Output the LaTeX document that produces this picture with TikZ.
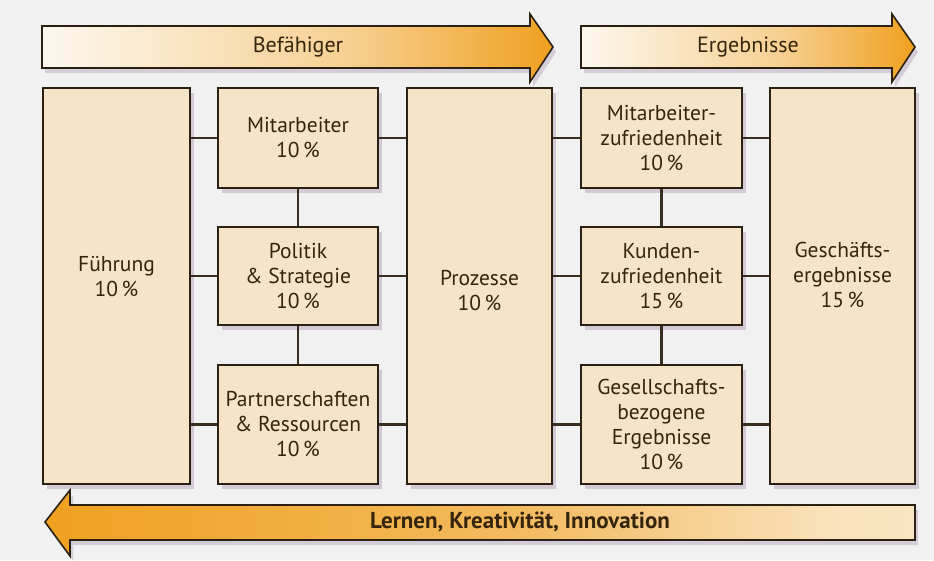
\documentclass[tikz,border=0pt]{standalone}
\usepackage{fontspec}
\setmainfont{PT Sans}
\usetikzlibrary{shadows}

\definecolor{bgc}{HTML}{F1F1F1}
\definecolor{boxfill}{HTML}{F5E4C8}
\definecolor{edge}{HTML}{2B2112}
\definecolor{ink}{HTML}{35250C}
\definecolor{pale}{HTML}{FCF7EE}
\definecolor{amber}{HTML}{F0A020}
\definecolor{shade}{HTML}{B9A9BE}

% band fillings: cream fading into amber
\pgfdeclarehorizontalshading{warmright}{100bp}{
  color(0bp)=(pale); color(25bp)=(pale); color(55bp)=(pale!55!amber);
  color(75bp)=(amber); color(100bp)=(amber)}
\pgfdeclarehorizontalshading{warmleft}{100bp}{
  color(0bp)=(amber); color(25bp)=(amber); color(52bp)=(amber!70!pale);
  color(70bp)=(pale!75!amber); color(100bp)=(pale)}

\tikzset{
  panel/.style={draw=edge, line width=1.5pt, fill=boxfill, text=ink,
    align=center, font=\fontsize{21.5}{25}\selectfont, inner sep=2pt,
    drop shadow={shadow xshift=4pt, shadow yshift=-5pt, fill=shade, opacity=.55}},
  caption/.style={text=ink, align=center, font=\fontsize{21.5}{25}\selectfont},
  link/.style={draw=edge!85!gray, line width=2.4pt},
  band/.style={draw=edge, line width=1.6pt, line join=miter,
    drop shadow={shadow xshift=3pt, shadow yshift=-5pt, fill=shade, opacity=.5}},
  bandtext/.style={text=ink, font=\fontsize{22}{26}\selectfont}
}

\begin{document}
\begin{tikzpicture}[x=1pt, y=-1pt]
  % canvas
  \fill[bgc] (0,0) rectangle (934,560);
  \useasboundingbox (0,0) rectangle (934,560);

  % --- direction bands ---
  \path[band, shading=warmright]
    (42,26) -- (530,26) -- (530,14) -- (553,47) -- (530,82) -- (530,68) -- (42,68) -- cycle;
  \node[bandtext] (enab) at (298,47) {Befähiger};

  \path[band, shading=warmright]
    (581,26) -- (892,26) -- (892,14) -- (915,47) -- (892,82) -- (892,68) -- (581,68) -- cycle;
  \node[bandtext] (resl) at (748,47) {Ergebnisse};

  \path[band, shading=warmleft]
    (915,505) -- (70,505) -- (70,490) -- (45,522) -- (70,556) -- (70,540) -- (915,540) -- cycle;
  \node[bandtext, font=\fontsize{23}{26}\selectfont\bfseries] (lern) at (520,522)
    {Lernen, Kreativität, Innovation};

  % --- criteria boxes ---
  \node[panel, minimum width=147pt, minimum height=396pt] (fu) at (116.5,286) {};
  \node[caption] (fut) at (116.5,277) {Führung\\10\,\%};
  \node[panel, minimum width=160pt, minimum height=100pt] (mi) at (298,138) {Mitarbeiter\\10\,\%};
  \node[panel, minimum width=160pt, minimum height=98pt]  (po) at (298,276) {Politik\\\& Strategie\\10\,\%};
  \node[panel, minimum width=160pt, minimum height=119pt] (pa) at (298,424.5) {Partnerschaften\\\& Ressourcen\\10\,\%};
  \node[panel, minimum width=145pt, minimum height=396pt] (pr) at (479.5,286) {};
  \node[caption] (prt) at (479.5,291) {Prozesse\\10\,\%};
  \node[panel, minimum width=161pt, minimum height=100pt] (mz) at (661.5,138) {Mitarbeiter-\\zufriedenheit\\10\,\%};
  \node[panel, minimum width=161pt, minimum height=98pt]  (kz) at (661.5,276) {Kunden-\\zufriedenheit\\15\,\%};
  \node[panel, minimum width=161pt, minimum height=119pt] (ge) at (661.5,424.5) {Gesellschafts-\\bezogene\\Ergebnisse\\10\,\%};
  \node[panel, minimum width=145pt, minimum height=396pt] (gs) at (842.5,286) {};
  \node[caption] (gst) at (842.5,275) {Geschäfts-\\ergebnisse\\15\,\%};

  % --- connectors ---
  \foreach \s in {mi,po,pa}{
    \draw[link] (fu.east |- \s.west) -- (\s.west);
    \draw[link] (\s.east) -- (pr.west |- \s.east);
  }
  \foreach \s in {mz,kz,ge}{
    \draw[link] (pr.east |- \s.west) -- (\s.west);
    \draw[link] (\s.east) -- (gs.west |- \s.east);
  }
  \draw[link] (mi.south) -- (po.north);
  \draw[link] (po.south) -- (pa.north);
  \draw[link] (mz.south) -- (kz.north);
  \draw[link] (kz.south) -- (ge.north);
\end{tikzpicture}
\end{document}
